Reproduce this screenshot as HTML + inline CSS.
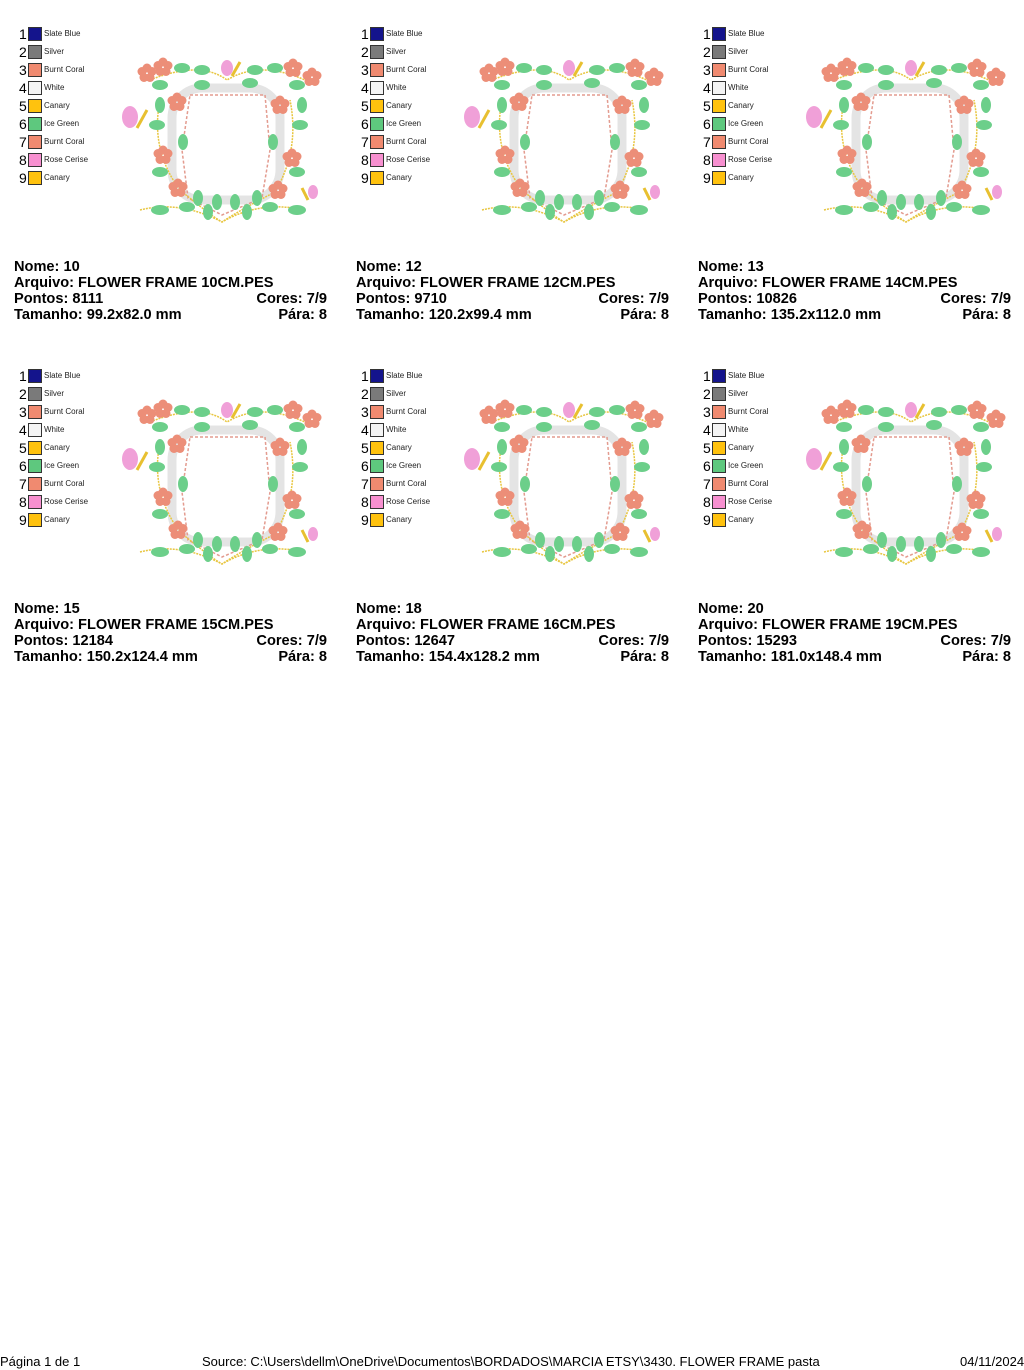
<!DOCTYPE html>
<html><head><meta charset="utf-8"><style>
body{margin:0;width:1024px;height:1370px;background:#fff;position:relative;overflow:hidden;font-family:"Liberation Sans",sans-serif;}
.p{position:absolute;width:342px;height:342px;}
.n{position:absolute;left:19px;font-size:14px;line-height:14px;color:#000;}
.sw{position:absolute;left:28px;width:12px;height:12px;border:1px solid #333;}
.lb{position:absolute;left:44px;font-size:8px;line-height:10px;color:#222;}
.t{position:absolute;left:14px;width:313px;font-weight:bold;font-size:14.6px;line-height:16px;color:#000;}
.t span{float:right;}
svg.f{position:absolute;left:0;top:0;}
.ft{position:absolute;top:1354px;font-size:13px;color:#000;}
</style></head><body>
<svg width="0" height="0" style="position:absolute">
<defs>
<g id="fl"><circle cx="0" cy="-5" r="4.5"/><circle cx="5" cy="-1.5" r="4.5"/><circle cx="3" cy="4.5" r="4.5"/><circle cx="-3" cy="4.5" r="4.5"/><circle cx="-5" cy="-1.5" r="4.5"/></g>
<symbol id="fr" viewBox="0 0 342 342">
<rect x="172" y="88" width="108" height="112" rx="30" fill="none" stroke="#e4e4e4" stroke-width="9"/>
<polygon points="190,95 265,95 270,150 262,198 222,215 188,198 182,150" fill="none" stroke="#e39b8f" stroke-width="1.5" stroke-dasharray="3,2"/>
<g fill="none" stroke="#e8c640" stroke-width="1.5" stroke-dasharray="2,1">
<path d="M150,80 Q200,60 227,80 Q260,60 305,80"/>
<path d="M160,100 Q150,150 180,190 Q210,215 222,222 Q240,210 275,192 Q300,150 290,100"/>
<path d="M140,210 Q180,200 222,222 Q260,200 305,210"/>
</g>
<g fill="#6ccf8a">
<ellipse cx="182" cy="68" rx="8" ry="5"/><ellipse cx="202" cy="70" rx="8" ry="5"/><ellipse cx="255" cy="70" rx="8" ry="5"/><ellipse cx="275" cy="68" rx="8" ry="5"/>
<ellipse cx="160" cy="85" rx="8" ry="5"/><ellipse cx="202" cy="85" rx="8" ry="5"/><ellipse cx="250" cy="83" rx="8" ry="5"/><ellipse cx="297" cy="85" rx="8" ry="5"/>
<ellipse cx="160" cy="105" rx="5" ry="8"/><ellipse cx="157" cy="125" rx="8" ry="5"/><ellipse cx="183" cy="142" rx="5" ry="8"/><ellipse cx="160" cy="172" rx="8" ry="5"/>
<ellipse cx="302" cy="105" rx="5" ry="8"/><ellipse cx="300" cy="125" rx="8" ry="5"/><ellipse cx="273" cy="142" rx="5" ry="8"/><ellipse cx="297" cy="172" rx="8" ry="5"/>
<ellipse cx="160" cy="210" rx="9" ry="5"/><ellipse cx="187" cy="207" rx="8" ry="5"/><ellipse cx="198" cy="198" rx="5" ry="8"/><ellipse cx="208" cy="212" rx="5" ry="8"/><ellipse cx="217" cy="202" rx="5" ry="8"/>
<ellipse cx="235" cy="202" rx="5" ry="8"/><ellipse cx="247" cy="212" rx="5" ry="8"/><ellipse cx="257" cy="198" rx="5" ry="8"/><ellipse cx="270" cy="207" rx="8" ry="5"/><ellipse cx="297" cy="210" rx="9" ry="5"/>
</g>
<g fill="#ec8e78">
<use href="#fl" x="147" y="73"/><use href="#fl" x="163" y="67"/><use href="#fl" x="293" y="68"/><use href="#fl" x="312" y="77"/>
<use href="#fl" x="177" y="102"/><use href="#fl" x="280" y="105"/><use href="#fl" x="163" y="155"/><use href="#fl" x="292" y="158"/>
<use href="#fl" x="178" y="188"/><use href="#fl" x="278" y="190"/>
</g>
<g fill="#f0a0d8">
<ellipse cx="130" cy="117" rx="8" ry="11"/><ellipse cx="227" cy="68" rx="6" ry="8"/><ellipse cx="313" cy="192" rx="5" ry="7"/>
</g>
<g stroke="#e8c030" stroke-width="3">
<line x1="137" y1="128" x2="147" y2="110"/><line x1="232" y1="76" x2="240" y2="62"/><line x1="308" y1="200" x2="302" y2="188"/>
</g>
</symbol>
</defs></svg>

<div id="root"></div>
<script>
var cols=[0,342,684],rows=[0,342];
var data=[["10","10","8111","99.2x82.0"],["12","12","9710","120.2x99.4"],["13","14","10826","135.2x112.0"],["15","15","12184","150.2x124.4"],["18","16","12647","154.4x128.2"],["20","19","15293","181.0x148.4"]];
var leg=[["#14148c","Slate Blue"],["#7a7a7a","Silver"],["#f08a70","Burnt Coral"],["#f4f4f4","White"],["#ffc20e","Canary"],["#5ec87e","Ice Green"],["#f08a70","Burnt Coral"],["#f790d0","Rose Cerise"],["#ffc20e","Canary"]];
var h="";
for(var i=0;i<6;i++){
var x=cols[i%3],y=rows[Math.floor(i/3)],d=data[i];
h+='<div class="p" style="left:'+x+'px;top:'+y+'px">';
for(var k=0;k<9;k++){var ty=27+k*18;
h+='<div class="n" style="top:'+ty+'px">'+(k+1)+'</div><div class="sw" style="top:'+ty+'px;background:'+leg[k][0]+'"></div><div class="lb" style="top:'+(ty+2)+'px">'+leg[k][1]+'</div>';}
h+='<svg class="f" width="342" height="342"><use href="#fr"/></svg>';
h+='<div class="t" style="top:259px">Nome: '+d[0]+'</div>';
h+='<div class="t" style="top:275px">Arquivo: FLOWER FRAME '+d[1]+'CM.PES</div>';
h+='<div class="t" style="top:291px">Pontos: '+d[2]+'<span>Cores: 7/9</span></div>';
h+='<div class="t" style="top:307px">Tamanho: '+d[3]+' mm<span>Pára: 8</span></div>';
h+='</div>';}
document.getElementById("root").innerHTML=h;
</script>
<div class="ft" style="left:0">Página 1 de 1</div>
<div class="ft" style="left:202px">Source: C:\Users\dellm\OneDrive\Documentos\BORDADOS\MARCIA ETSY\3430. FLOWER FRAME pasta</div>
<div class="ft" style="left:960px">04/11/2024</div>
</body></html>
